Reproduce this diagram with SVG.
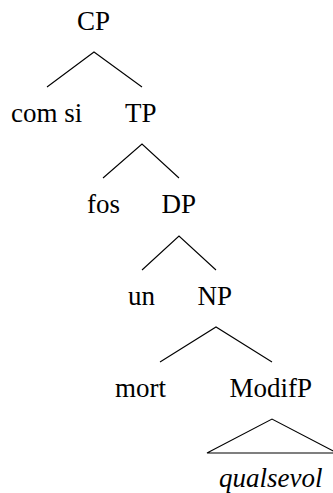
<svg xmlns="http://www.w3.org/2000/svg" width="333" height="493" viewBox="0 0 333 493">
<rect width="333" height="493" fill="#fff"/>
<g id="connectors" stroke="#000" stroke-width="1.1" fill="none">
<path d="M47,87 L94,52 L142,87"/>
<path d="M103,178 L142,144 L179,178"/>
<path d="M142,270 L179,236 L216,270"/>
<path d="M160,362 L216,327 L272,362"/>
<path d="M207,453 L272,419 L337,453 Z"/>
</g>
<text id="CP" x="77" y="30" font-family="Liberation Serif" font-size="27">CP</text>
<text id="comsi" x="11" y="122" font-family="Liberation Serif" font-size="27">com si</text>
<text id="TP" x="125" y="122" font-family="Liberation Serif" font-size="27">TP</text>
<text id="fos" x="87" y="213" font-family="Liberation Serif" font-size="27">fos</text>
<text id="DP" x="161.5" y="213" font-family="Liberation Serif" font-size="27">DP</text>
<text id="un" x="128" y="305" font-family="Liberation Serif" font-size="27">un</text>
<text id="NP" x="197.5" y="305" font-family="Liberation Serif" font-size="27">NP</text>
<text id="mort" x="115" y="397" font-family="Liberation Serif" font-size="27">mort</text>
<text id="ModifP" x="229.5" y="397" font-family="Liberation Serif" font-size="27">ModifP</text>
<text id="qualsevol" x="219" y="487" font-family="Liberation Serif" font-size="27" font-style="italic">qualsevol</text>
</svg>
